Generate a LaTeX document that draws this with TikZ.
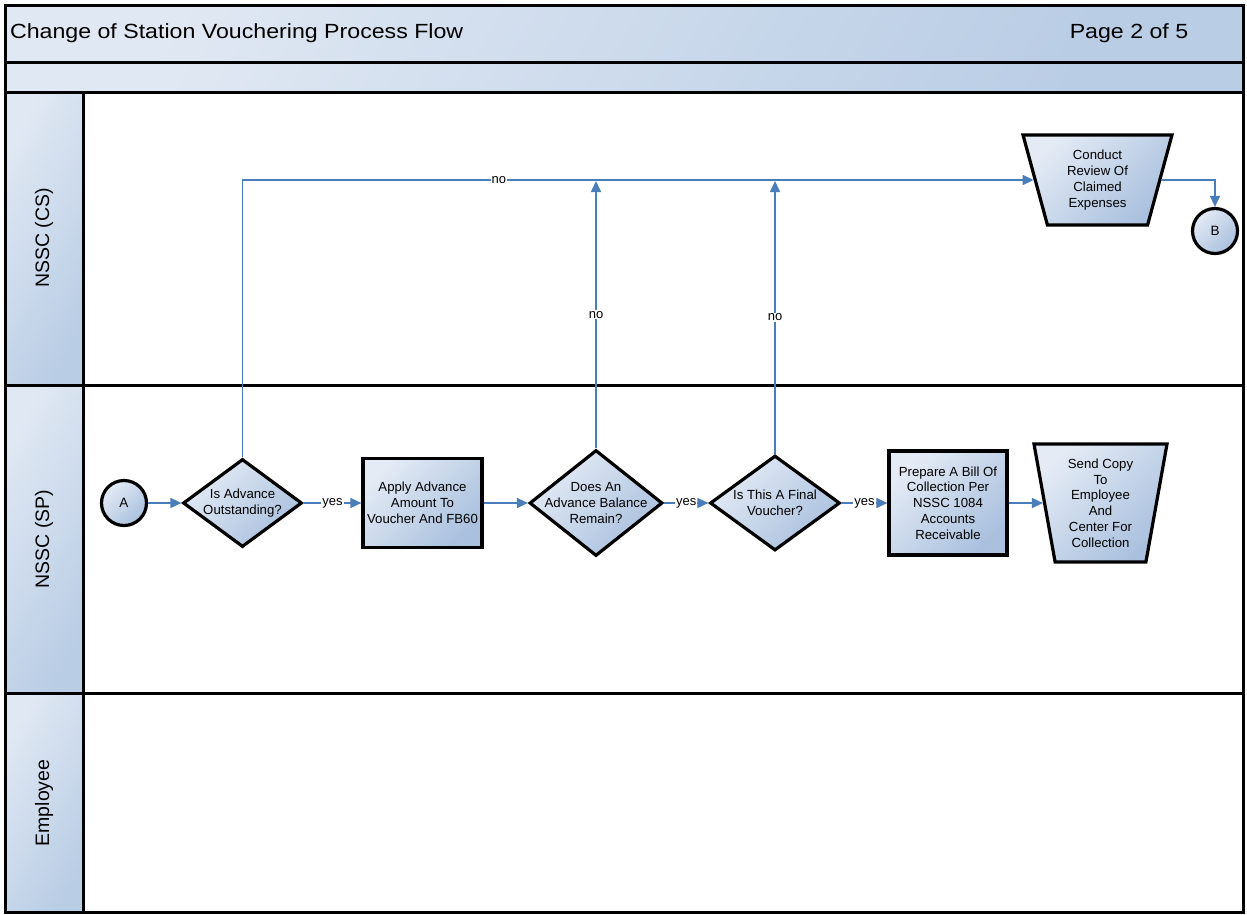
\documentclass[tikz,border=0pt]{standalone}
\usepackage{fontspec}
\setmainfont{Liberation Sans}
\newfontfamily\headfont[FakeStretch=1.13]{Liberation Sans}
\usetikzlibrary{arrows.meta,shapes.geometric}

\definecolor{shlight}{HTML}{E4EBF5}
\definecolor{shdark}{HTML}{A9C0DE}
\definecolor{bandlight}{HTML}{E0E8F3}
\definecolor{banddark}{HTML}{B9CDE5}
\definecolor{flowblue}{HTML}{4A7EBB}

\tikzset{
  shapefill/.style={top color=shlight, bottom color=shdark, shading angle=45},
  bandfill/.style={top color=bandlight, bottom color=banddark, shading angle=60},
  txt/.style={font=\fontsize{13.2}{15.8}\selectfont, align=center, inner sep=0pt},
  flowbox/.style={rectangle, draw, line width=3.2pt, shapefill, inner sep=2pt, txt},
  decision/.style={diamond, draw, line width=3.2pt, shapefill, inner sep=1pt},
  manual/.style={trapezium, shape border rotate=180, trapezium stretches=true,
                 draw, line width=3.2pt, shapefill, inner sep=2pt},
  connector/.style={circle, draw, line width=3.2pt, shapefill, minimum size=45pt, inner sep=0pt,
                    font=\fontsize{13.5}{15}\selectfont},
  flow/.style={draw=flowblue, line width=1.6pt, -{Triangle[length=11pt,width=10pt]}},
  lbl/.style={fill=white, inner sep=1pt, font=\fontsize{13}{14}\selectfont, text=black},
  lanelabel/.style={rotate=90, font=\fontsize{19.5}{22}\selectfont},
  frame/.style={line width=3pt, line cap=rect},
}

\begin{document}
\begin{tikzpicture}[x=1pt, y=-1pt]
\useasboundingbox (0,0) rectangle (1247,914);

% header bands and lane header column
\shade[bandfill] (5,5) rectangle (1243,62);
\shade[bandfill] (5,62) rectangle (1243,92);
\shade[bandfill] (5,92) rectangle (83,385);
\shade[bandfill] (5,385) rectangle (83,693);
\shade[bandfill] (5,693) rectangle (83,912);

% frame and lane dividers
\draw[frame] (5,5) rectangle (1243,912);
\draw[frame] (5,62) -- (1243,62);
\draw[frame] (5,92) -- (1243,92);
\draw[frame] (5,385) -- (1243,385);
\draw[frame] (5,693) -- (1243,693);
\draw[frame] (83,92) -- (83,912);

% titles
\node[anchor=west, font=\headfont\fontsize{20.5}{24}\selectfont] (title) at (6.5,33) {Change of Station Vouchering Process Flow};
\node[font=\headfont\fontsize{20.5}{24}\selectfont] (page) at (1129,33) {Page 2 of 5};

% lane names
\node[lanelabel] (lanecs) at (44,238) {NSSC (CS)};
\node[lanelabel] (lanesp) at (44,539) {NSSC (SP)};
\node[lanelabel] (laneemp) at (44,803) {Employee};

% process shapes
\node[connector] (a) at (124,503) {A};
\node[decision, minimum width=119pt, minimum height=88pt,
      label={[txt]center:{Is Advance\\Outstanding?}}] (d1) at (242.5,503) {};
\node[flowbox, minimum width=119pt, minimum height=89pt] (r1) at (422.5,503)
      {Apply Advance\\Amount To\\Voucher And FB60};
\node[decision, minimum width=133pt, minimum height=106pt,
      label={[txt]center:{Does An\\Advance Balance\\Remain?}}] (d2) at (596,503) {};
\node[decision, minimum width=130pt, minimum height=95pt,
      label={[txt]center:{Is This A Final\\Voucher?}}] (d3) at (775,503) {};
\node[flowbox, minimum width=118pt, minimum height=104pt] (r2) at (948,503)
      {Prepare A Bill Of\\Collection Per\\NSSC 1084\\Accounts\\Receivable};
\node[manual, minimum width=133pt, minimum height=118pt,
      trapezium left angle=76.9, trapezium right angle=76.9,
      label={[txt]center:{Send Copy\\To\\Employee\\And\\Center For\\Collection}}] (t2) at (1100.5,503) {};
\node[manual, minimum width=149pt, minimum height=90pt,
      trapezium left angle=76.3, trapezium right angle=76.3,
      label={[txt]center:{Conduct\\Review Of\\Claimed\\Expenses}}] (cr) at (1097.5,180) {};
\node[connector] (b) at (1215,231) {B};

% joins on the review line
\coordinate (j2) at (596,181);
\coordinate (j3) at (775,181);

% flow lines
\draw[flow] (a) -- (d1);
\draw[flow] (d1) -- node[lbl]{yes} (r1);
\draw[flow] (r1) -- (d2);
\draw[flow] (d2) -- node[lbl]{yes} (d3);
\draw[flow] (d3) -- node[lbl]{yes} (r2);
\draw[flow] (r2) -- (t2.180);
\draw[flow] (d1.north) |- node[lbl, pos=0.662]{no} (cr.180);
\draw[flow] (d2.north) -- node[lbl]{no} (j2);
\draw[flow] (d3.north) -- node[lbl]{no} (j3);
\draw[flow] (cr.0) -| (b.north);
\end{tikzpicture}
\end{document}
